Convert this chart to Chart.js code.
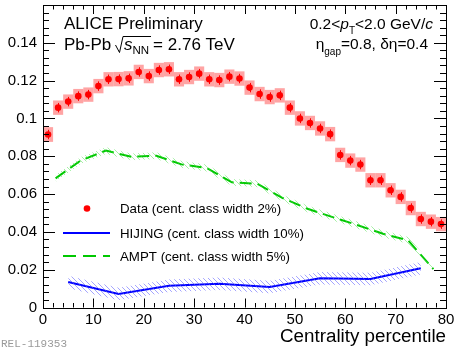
<!DOCTYPE html>
<html>
<head>
<meta charset="utf-8">
<script src="https://cdn.jsdelivr.net/npm/chart.js@4/dist/chart.umd.min.js"></script>
<style>
  html, body { margin: 0; padding: 0; background: #fff; }
  #wrap { width: 455px; height: 349px; position: relative; }
</style>
</head>
<body>
<div id="wrap"><canvas id="chart"></canvas></div>
<script>
// ALICE data, centrality class width 2%
const dataCent = [1, 3, 5, 7, 9, 11, 13, 15, 17, 19, 21, 23, 25, 27, 29, 31, 33, 35, 37, 39,
  41, 43, 45, 47, 49, 51, 53, 55, 57, 59, 61, 63, 65, 67, 69, 71, 73, 75, 77, 79];
const dataVal = [0.0915, 0.1057, 0.1089, 0.1118, 0.1126, 0.1171, 0.1207, 0.1208, 0.1212, 0.1246,
  0.1224, 0.1256, 0.1260, 0.1207, 0.1219, 0.1237, 0.1207, 0.1203, 0.1221, 0.1211,
  0.1163, 0.1129, 0.1113, 0.1122, 0.1057, 0.1000, 0.0976, 0.0947, 0.0917, 0.0807,
  0.0777, 0.0756, 0.0673, 0.0673, 0.0620, 0.0585, 0.0526, 0.0468, 0.0454, 0.0441];
const dataStat = [0.0025, 0.0025, 0.0025, 0.0025, 0.0025, 0.0025, 0.0025, 0.0025, 0.0025, 0.0025,
  0.0025, 0.0025, 0.0025, 0.0025, 0.0025, 0.0025, 0.0025, 0.0025, 0.0025, 0.0025,
  0.0025, 0.0025, 0.0025, 0.0025, 0.0025, 0.0025, 0.0025, 0.0025, 0.0025, 0.0025,
  0.0025, 0.0025, 0.0025, 0.0025, 0.0025, 0.0025, 0.0025, 0.0025, 0.0025, 0.0025];
const dataSys = [0.0039, 0.0038, 0.0038, 0.0038, 0.0038, 0.0038, 0.0038, 0.0038, 0.0038, 0.0038,
  0.0038, 0.0038, 0.0038, 0.0038, 0.0038, 0.0038, 0.0038, 0.0038, 0.0038, 0.0038,
  0.0038, 0.0038, 0.0038, 0.0038, 0.0038, 0.0038, 0.0038, 0.0038, 0.0038, 0.0038,
  0.0038, 0.0038, 0.0038, 0.0038, 0.0038, 0.0038, 0.0038, 0.0038, 0.0038, 0.0038];

// HIJING, class width 10%
const hijingCent = [5, 15, 25, 35, 45, 55, 65, 75];
const hijingVal = [0.0135, 0.0071, 0.0115, 0.0126, 0.0108, 0.0155, 0.0151, 0.0208];
const hijingErr = [0.0033, 0.0033, 0.0033, 0.0033, 0.0033, 0.0033, 0.0033, 0.0033];

// AMPT, class width 5%
const amptCent = [2.5, 7.5, 12.5, 17.5, 22.5, 27.5, 32.5, 37.5, 42.5, 47.5, 52.5, 57.5, 62.5, 67.5, 72.5, 77.5];
const amptVal = [0.0683, 0.0778, 0.0830, 0.0797, 0.0803, 0.0757, 0.0738, 0.0662,
  0.0655, 0.0580, 0.0522, 0.0478, 0.0435, 0.0390, 0.0355, 0.0203];
const amptErr = [0.0018, 0.0018, 0.0018, 0.0018, 0.0018, 0.0018, 0.0018, 0.0018,
  0.0018, 0.0018, 0.0018, 0.0018, 0.0018, 0.0018, 0.0018, 0.0018];

const xTicks = [0, 10, 20, 30, 40, 50, 60, 70, 80];
const yTicks = [0, 0.02, 0.04, 0.06, 0.08, 0.1, 0.12, 0.14];
const yLabels = ['0', '0.02', '0.04', '0.06', '0.08', '0.1', '0.12', '0.14'];

const FONT = '"Liberation Sans", Arial, Helvetica, sans-serif';

function hatch(color) {
  const c = document.createElement('canvas');
  c.width = 5; c.height = 5;
  const g = c.getContext('2d');
  g.strokeStyle = color;
  g.lineWidth = 1;
  g.beginPath();
  g.moveTo(-1, -1); g.lineTo(6, 6);
  g.moveTo(-1, 4); g.lineTo(1, 6);
  g.moveTo(4, -1); g.lineTo(6, 1);
  g.stroke();
  return g.createPattern(c, 'repeat');
}

function pts(xs, ys, off, sign) {
  return xs.map((x, i) => ({ x: x, y: ys[i] + (off ? sign * off[i] : 0) }));
}

// rich text: segments [text, size, italic, dy]
function richWidth(ctx, segs) {
  let w = 0;
  segs.forEach(s => {
    ctx.font = (s[2] ? 'italic ' : '') + s[1] + 'px ' + FONT;
    w += ctx.measureText(s[0]).width;
  });
  return w;
}
function drawRich(ctx, segs, x, y) {
  segs.forEach(s => {
    ctx.font = (s[2] ? 'italic ' : '') + s[1] + 'px ' + FONT;
    ctx.fillText(s[0], x, y + (s[3] || 0));
    x += ctx.measureText(s[0]).width;
  });
  return x;
}

const decor = {
  id: 'decor',
  beforeDatasetsDraw(chart) {
    const ctx = chart.ctx, xs = chart.scales.x, ys = chart.scales.y;
    ctx.save();
    ctx.fillStyle = 'rgba(255, 90, 90, 0.55)';
    dataCent.forEach((c, i) => {
      const x0 = xs.getPixelForValue(c - 1), x1 = xs.getPixelForValue(c + 1);
      const y0 = ys.getPixelForValue(dataVal[i] + dataSys[i]);
      const y1 = ys.getPixelForValue(dataVal[i] - dataSys[i]);
      ctx.fillRect(x0, y0, x1 - x0, y1 - y0);
    });
    ctx.strokeStyle = '#ff0000';
    ctx.lineWidth = 1;
    dataCent.forEach((c, i) => {
      const x = Math.round(xs.getPixelForValue(c)) + 0.5;
      ctx.beginPath();
      ctx.moveTo(x, ys.getPixelForValue(dataVal[i] + dataStat[i]));
      ctx.lineTo(x, ys.getPixelForValue(dataVal[i] - dataStat[i]));
      ctx.stroke();
    });
    ctx.restore();
  },
  afterDraw(chart) {
    const ctx = chart.ctx, xs = chart.scales.x, ys = chart.scales.y;
    const a = chart.chartArea;
    ctx.save();
    // frame
    ctx.strokeStyle = '#000';
    ctx.lineWidth = 1;
    ctx.strokeRect(Math.round(a.left) + 0.5, Math.round(a.top) + 0.5,
      Math.round(a.right - a.left), Math.round(a.bottom - a.top));
    // ticks, all four sides, pointing inward
    ctx.beginPath();
    for (let v = 0; v <= 80.001; v += 2) {
      const x = Math.round(xs.getPixelForValue(v)) + 0.5;
      const len = (Math.abs(v % 10) < 0.01) ? 9 : 4.5;
      ctx.moveTo(x, a.bottom); ctx.lineTo(x, a.bottom - len);
      ctx.moveTo(x, a.top); ctx.lineTo(x, a.top + len);
    }
    for (let k = 0; k <= 40; k++) {
      const v = k * 0.004;
      const y = Math.round(ys.getPixelForValue(v)) + 0.5;
      if (y < a.top) continue;
      const len = (k % 5 === 0) ? 12 : 6;
      ctx.moveTo(a.left, y); ctx.lineTo(a.left + len, y);
      ctx.moveTo(a.right, y); ctx.lineTo(a.right - len, y);
    }
    ctx.stroke();

    ctx.fillStyle = '#000';
    ctx.textBaseline = 'alphabetic';
    ctx.textAlign = 'left';
    // top-left labels
    ctx.font = '17px ' + FONT;
    ctx.fillText('ALICE Preliminary', 64, 29);
    ctx.fillText('Pb-Pb', 64, 50);
    ctx.beginPath();
    ctx.moveTo(115.5, 45); ctx.lineTo(119.5, 52.5); ctx.lineTo(123, 36.5); ctx.lineTo(151, 36.5);
    ctx.stroke();
    let px = drawRich(ctx, [['s', 17, true, 0], ['NN', 11.5, false, 3.5]], 124, 50);
    ctx.font = '17px ' + FONT;
    ctx.fillText('= 2.76 TeV', px + 4, 50);

    // top-right labels
    const l1 = [['0.2<', 15.5, false, 0], ['p', 15.5, true, 0], ['T', 10, false, 5.5],
      ['<2.0 GeV/', 15.5, false, 0], ['c', 15.5, true, 0]];
    drawRich(ctx, l1, 433 - richWidth(ctx, l1), 28.5);
    const l2 = [['\u03b7', 15.5, false, 0], ['gap', 10, false, 5.5], ['=0.8, \u03b4\u03b7=0.4', 15.5, false, 0]];
    drawRich(ctx, l2, 428 - richWidth(ctx, l2), 49);

    // legend
    ctx.font = '13.3px ' + FONT;
    ctx.fillText('Data (cent. class width 2%)', 120, 213);
    ctx.fillText('HIJING (cent. class width 10%)', 120, 238);
    ctx.fillText('AMPT (cent. class width 5%)', 120, 261);
    ctx.fillStyle = '#ff0000';
    ctx.beginPath(); ctx.arc(87, 208.5, 3.3, 0, Math.PI * 2); ctx.fill();
    ctx.lineWidth = 2;
    ctx.strokeStyle = '#0000ff';
    ctx.beginPath(); ctx.moveTo(63, 233); ctx.lineTo(110, 233); ctx.stroke();
    ctx.strokeStyle = '#00c800';
    ctx.setLineDash([13, 7]);
    ctx.beginPath(); ctx.moveTo(63, 256); ctx.lineTo(110, 256); ctx.stroke();
    ctx.setLineDash([]);

    // axis title
    ctx.fillStyle = '#000';
    ctx.textAlign = 'right';
    ctx.font = '18.8px ' + FONT;
    ctx.fillText('Centrality percentile', a.right, 342);

    // release tag
    ctx.textAlign = 'left';
    ctx.fillStyle = '#9a9a9a';
    ctx.font = '11px "Liberation Mono", "DejaVu Sans Mono", monospace';
    ctx.fillText('REL-119353', 1, 347);
    ctx.restore();
  }
};

const ctx = document.getElementById('chart').getContext('2d');
new Chart(ctx, {
  type: 'line',
  data: {
    datasets: [
      { data: pts(hijingCent, hijingVal, hijingErr, -1), borderWidth: 0, pointRadius: 0, fill: false },
      { data: pts(hijingCent, hijingVal, hijingErr, 1), borderWidth: 0, pointRadius: 0,
        fill: '-1', backgroundColor: hatch('rgba(90, 90, 255, 0.55)') },
      { data: pts(hijingCent, hijingVal), borderColor: '#0000ff', borderWidth: 2, pointRadius: 0, fill: false },
      { data: pts(amptCent, amptVal, amptErr, -1), borderWidth: 0, pointRadius: 0, fill: false },
      { data: pts(amptCent, amptVal, amptErr, 1), borderWidth: 0, pointRadius: 0,
        fill: '-1', backgroundColor: hatch('rgba(60, 220, 60, 0.45)') },
      { data: pts(amptCent, amptVal), borderColor: '#00c800', borderWidth: 2, borderDash: [12, 6],
        pointRadius: 0, fill: false },
      { data: pts(dataCent, dataVal), showLine: false, pointRadius: 3.3, pointHoverRadius: 3.3,
        pointBackgroundColor: '#ff0000', pointBorderWidth: 0, borderColor: '#ff0000' }
    ]
  },
  options: {
    responsive: true,
    maintainAspectRatio: false,
    animation: false,
    events: [],
    layout: { padding: { left: 0, right: 9, top: 5, bottom: 0 } },
    plugins: { legend: { display: false }, tooltip: { enabled: false } },
    scales: {
      x: {
        type: 'linear', min: 0, max: 80,
        grid: { display: false, drawTicks: false },
        border: { display: false },
        afterFit: s => { s.height = 41.5; s.paddingLeft = 0; s.paddingRight = 0; },
        afterBuildTicks: s => { s.ticks = xTicks.map(v => ({ value: v })); },
        ticks: { color: '#000', padding: 3, maxRotation: 0, font: { family: FONT, size: 15 },
          callback: v => String(v) }
      },
      y: {
        type: 'linear', min: 0, max: 0.16,
        grid: { display: false, drawTicks: false },
        border: { display: false },
        afterFit: s => { s.width = 43; s.paddingTop = 0; s.paddingBottom = 0; },
        afterBuildTicks: s => { s.ticks = yTicks.map(v => ({ value: v })); },
        ticks: { color: '#000', padding: 6, font: { family: FONT, size: 15 },
          callback: (v, i) => yLabels[i] }
      }
    }
  },
  plugins: [decor]
});
</script>
</body>
</html>
